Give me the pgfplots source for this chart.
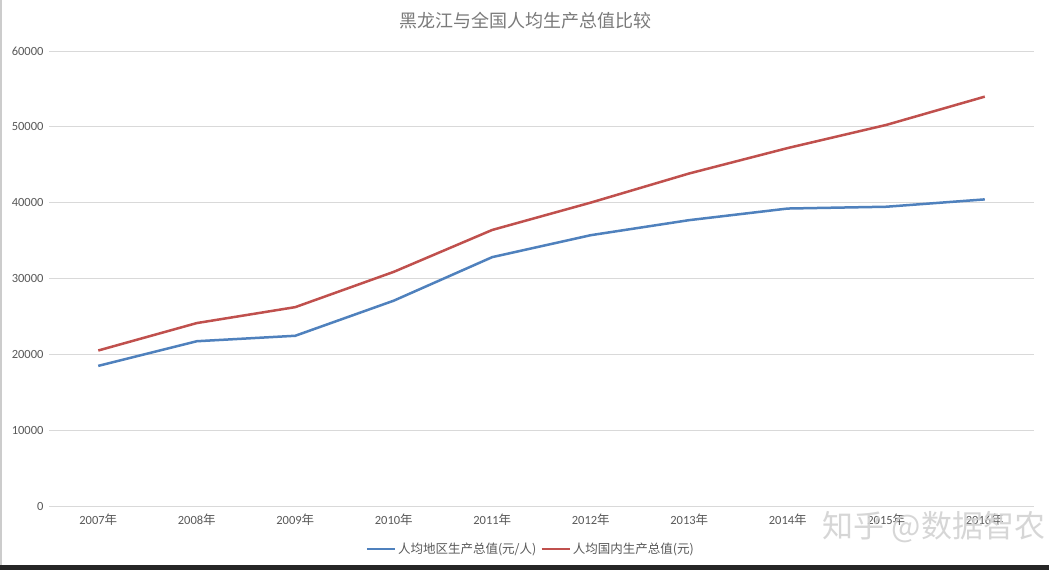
\documentclass[border=0pt]{standalone}
\usepackage{pgfplots}
\pgfplotsset{compat=1.18}
\usepackage{fontspec}
\setmainfont{Carlito}
\newfontfamily\cjk{Noto Sans CJK SC}
\newcommand\nian{{\cjk 年}}
\definecolor{sblue}{HTML}{4F81BD}
\definecolor{sred}{HTML}{C0504D}
\definecolor{gridc}{HTML}{D9D9D9}
\definecolor{txt}{HTML}{595959}
\pgfplotstableread{
x blue red
0 18478 20505
1 21727 24121
2 22447 26222
3 27076 30876
4 32819 36403
5 35711 40007
6 37697 43852
7 39226 47203
8 39462 50251
9 40432 53980
}\data
\begin{document}
\begin{tikzpicture}[x=1pt,y=1pt]
\fill[white] (0,0) rectangle (1049,570);
\fill[black!85] (0,0) rectangle (1049,5);
\fill[gray!40] (0,5) rectangle (2,570);
\begin{axis}[
  at={(49pt,64pt)}, anchor=south west,
  scale only axis, width=985pt, height=455pt,
  xmin=-0.5, xmax=9.5, ymin=0, ymax=60000,
  ytick={0,10000,...,60000},
  xtick=data,
  xticklabels={2007\nian,2008\nian,2009\nian,2010\nian,2011\nian,2012\nian,2013\nian,2014\nian,2015\nian,2016\nian},
  axis x line*=bottom,
  axis y line*=left,
  x axis line style={draw=gridc, line width=0.8pt},
  y axis line style={draw=none},
  ymajorgrids, grid style={gridc, line width=0.8pt},
  major tick length=0pt,
  /pgf/number format/assume math mode=true,
  /pgf/number format/1000 sep={},
  scaled y ticks=false,
  ticklabel style={font=\fontsize{12.5}{14}\selectfont, text=txt},
  yticklabel style={xshift=-2pt},
  xticklabel style={yshift=-4pt},
  legend columns=2,
  legend style={at={(0.489,-0.0945)}, anchor=center, draw=none, fill=none,
    font=\cjk\fontsize{12.5}{14}\selectfont, text=txt,
    /tikz/every even column/.append style={column sep=2pt}},
  legend image code/.code={\draw[#1, line width=2.5pt] (0pt,0pt) -- (28pt,0pt);},
  clip=false,
]
\addplot[sblue, line width=2.5pt] table[x=x,y=blue] {\data};
\addlegendentry{人均地区生产总值(元/人)}
\addplot[sred, line width=2.5pt] table[x=x,y=red] {\data};
\addlegendentry{人均国内生产总值(元)}
\end{axis}
\node[font=\cjk\fontsize{18}{20}\selectfont, text=txt!80] at (525,549) {黑龙江与全国人均生产总值比较};
\node[font=\cjk\fontsize{31}{34}\selectfont, text=gray!35, opacity=0.9] at (934,43) {知乎 @数据智农};
\end{tikzpicture}
\end{document}
